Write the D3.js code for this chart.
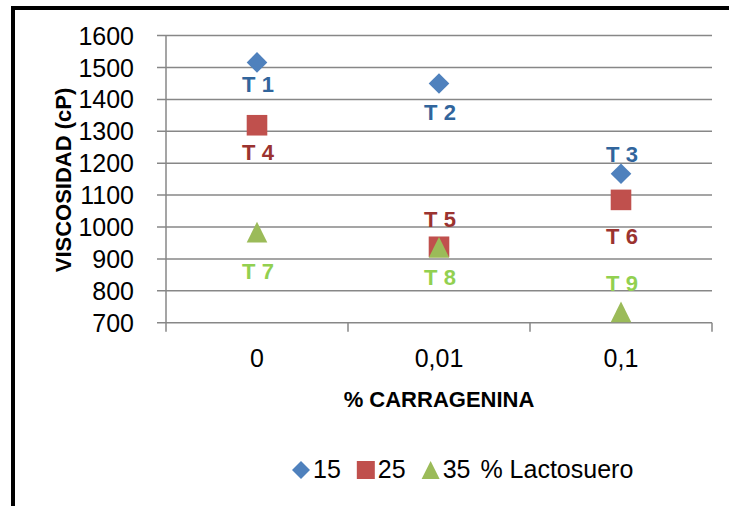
<!DOCTYPE html>
<html><head><meta charset="utf-8">
<script src="https://cdn.jsdelivr.net/npm/d3@7"></script>
<style>body{margin:0;background:#fff}svg{display:block}</style>
</head><body>
<svg id="c" width="729" height="506"></svg>
<script>
const categories = ["0", "0,01", "0,1"];
const seriesNames = ["15", "25", "35"];
const legendSuffix = "% Lactosuero";
const values15 = [1516, 1450, 1167];
const values25 = [1319, 938, 1085];
const values35 = [984, 936, 734];
const pointLabels15 = ["T 1", "T 2", "T 3"];
const pointLabels25 = ["T 4", "T 5", "T 6"];
const pointLabels35 = ["T 7", "T 8", "T 9"];
const yTicks = [700, 800, 900, 1000, 1100, 1200, 1300, 1400, 1500, 1600];
const xTitle = "% CARRAGENINA";
const yTitle = "VISCOSIDAD (cP)";

// label offsets (layout only, px relative to marker centre -> baseline)
const labelDy = [[30, 37, -12], [35, -20, 44], [47, 38, -21]];

const colors = ["#4F81BD", "#C0504D", "#9BBB59"];
const labelColors = ["#31659C", "#9B3330", "#92D050"];
const shapes = ["diamond", "square", "triangle"];

const svg = d3.select("#c");
// frame
svg.append("path").attr("d", "M13,506 V8 H729").attr("fill", "none").attr("stroke", "#000").attr("stroke-width", 4);

const left = 166, right = 712;
const y = d3.scaleLinear().domain([700, 1600]).range([322.7, 35.6]);
const x = d3.scaleBand().domain(categories).range([left, right]);

const grid = "#878787";
// gridlines + left ticks
svg.append("g").selectAll("line").data(yTicks).join("line")
  .attr("x1", left - 9).attr("x2", right)
  .attr("y1", d => y(d)).attr("y2", d => y(d))
  .attr("stroke", grid).attr("stroke-width", 1.5);
// y axis line
svg.append("line").attr("x1", left).attr("x2", left).attr("y1", y(1600)).attr("y2", y(700))
  .attr("stroke", grid).attr("stroke-width", 1.5);
// x ticks
const xt = categories.map(c => x(c)).concat([right]);
svg.append("g").selectAll("line").data(xt).join("line")
  .attr("x1", d => d).attr("x2", d => d).attr("y1", y(700)).attr("y2", y(700) + 9)
  .attr("stroke", grid).attr("stroke-width", 1.5);

// y tick labels
svg.append("g").selectAll("text").data(yTicks).join("text")
  .attr("x", 134).attr("y", d => y(d)).attr("dy", "0.36em")
  .attr("text-anchor", "end")
  .style("font-family", "'Liberation Sans Narrow','Liberation Sans',sans-serif")
  .style("font-size", "25px").attr("fill", "#000").text(d => d);
// x tick labels
svg.append("g").selectAll("text").data(categories).join("text")
  .attr("x", d => x(d) + x.bandwidth() / 2).attr("y", 367)
  .attr("text-anchor", "middle")
  .style("font-family", "'Liberation Sans Narrow','Liberation Sans',sans-serif")
  .style("font-size", "25px").attr("fill", "#000").text(d => d);

// titles
svg.append("text").attr("x", 439).attr("y", 407).attr("text-anchor", "middle")
  .style("font-family", "'Liberation Sans',Arial,sans-serif").style("font-weight", "bold")
  .style("font-size", "22px").text(xTitle);
svg.append("text").attr("transform", "translate(71,180) rotate(-90)").attr("text-anchor", "middle")
  .style("font-family", "'Liberation Sans',Arial,sans-serif").style("font-weight", "bold")
  .style("font-size", "22px").text(yTitle);

function shapePath(s, cx, cy, r) {
  if (s === "diamond") return `M${cx},${cy - r}L${cx + r},${cy}L${cx},${cy + r}L${cx - r},${cy}Z`;
  if (s === "square") return `M${cx - r},${cy - r}H${cx + r}V${cy + r}H${cx - r}Z`;
  return `M${cx},${cy - r}L${cx + r},${cy + r}L${cx - r},${cy + r}Z`;
}

const allValues = [values15, values25, values35];
const allLabels = [pointLabels15, pointLabels25, pointLabels35];
allValues.forEach((vals, si) => {
  const g = svg.append("g");
  g.selectAll("path").data(vals).join("path")
    .attr("d", (v, i) => shapePath(shapes[si], x(categories[i]) + x.bandwidth() / 2, y(v), 10.3))
    .attr("fill", colors[si]);
});
allValues.forEach((vals, si) => {
  svg.append("g").selectAll("text").data(vals).join("text")
    .attr("x", (v, i) => x(categories[i]) + x.bandwidth() / 2 + 1)
    .attr("y", (v, i) => y(v) + labelDy[si][i])
    .attr("text-anchor", "middle")
    .style("font-family", "'Liberation Sans',Arial,sans-serif").style("font-weight", "bold")
    .style("font-size", "22px").attr("fill", labelColors[si])
    .text((v, i) => allLabels[si][i]);
});

// legend
const lg = svg.append("g");
let lx = 292;
const ly = 470;
seriesNames.forEach((n, si) => {
  lg.append("path").attr("d", shapePath(shapes[si], lx + 9, ly, 9)).attr("fill", colors[si]);
  const t = lg.append("text").attr("x", lx + 21).attr("y", ly + 8)
    .style("font-family", "'Liberation Sans',Arial,sans-serif").style("font-size", "25px").text(n);
  lx = lx + 21 + t.node().getComputedTextLength() + 16;
});
lg.append("text").attr("x", lx - 6).attr("y", ly + 8)
  .style("font-family", "'Liberation Sans',Arial,sans-serif").style("font-size", "25px").text(legendSuffix);
</script>
</body></html>
